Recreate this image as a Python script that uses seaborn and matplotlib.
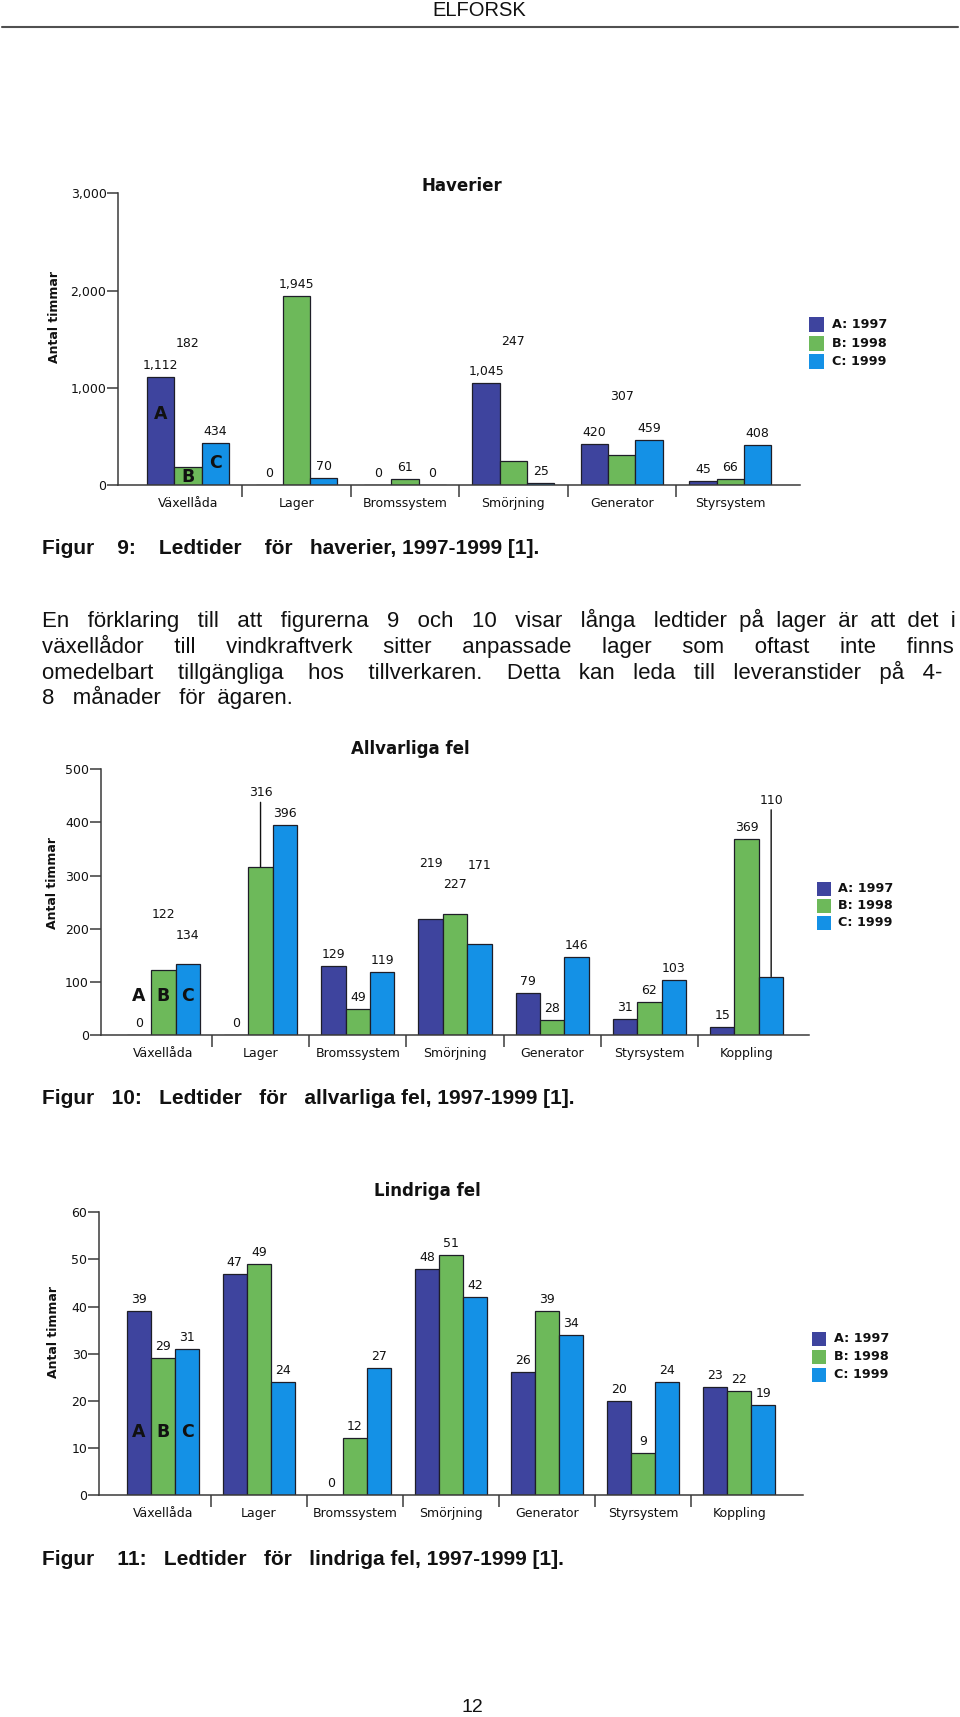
import numpy as np
import pandas as pd
import matplotlib
matplotlib.use("Agg")
import matplotlib.pyplot as plt
import seaborn as sns
from matplotlib.patches import Rectangle
from matplotlib.lines import Line2D
from matplotlib.ticker import FuncFormatter
from matplotlib import font_manager as fm

# ---------------- data ----------------
years = ["A: 1997", "B: 1998", "C: 1999"]

hav_categories = ["Växellåda", "Lager", "Bromssystem", "Smörjning", "Generator", "Styrsystem"]
hav_1997 = [1112, 0, 0, 1045, 420, 45]
hav_1998 = [182, 1945, 61, 247, 307, 66]
hav_1999 = [434, 70, 0, 25, 459, 408]
hav_yticks = [0, 1000, 2000, 3000]

fel_categories = ["Växellåda", "Lager", "Bromssystem", "Smörjning", "Generator", "Styrsystem", "Koppling"]
allv_1997 = [0, 0, 129, 219, 79, 31, 15]
allv_1998 = [122, 316, 49, 227, 28, 62, 369]
allv_1999 = [134, 396, 119, 171, 146, 103, 110]
allv_yticks = [0, 100, 200, 300, 400, 500]

lind_1997 = [39, 47, 0, 48, 26, 20, 23]
lind_1998 = [29, 49, 12, 51, 39, 9, 22]
lind_1999 = [31, 24, 27, 42, 34, 24, 19]
lind_yticks = [0, 10, 20, 30, 40, 50, 60]

paragraph_lines = [
    "En förklaring till att figurerna 9 och 10 visar långa ledtider på lager är att det i",
    "växellådor till vindkraftverk sitter anpassade lager som oftast inte finns",
    "omedelbart tillgängliga hos tillverkaren. Detta kan leda till leveranstider på 4-",
    "8 månader för ägaren.",
]
captions = [
    "Figur 9: Ledtider för haverier, 1997-1999 [1].",
    "Figur 10: Ledtider för allvarliga fel, 1997-1999 [1].",
    "Figur 11: Ledtider för lindriga fel, 1997-1999 [1].",
]

# ---------------- style ----------------
colors = ["#3E449E", "#6DB95A", "#1491E6"]
EDGE = "#1e1e28"
AXC = "#3a3a3a"
W, H = 960, 1717

sns.set_theme(style="white")
plt.rcParams["font.family"] = ["DejaVu Sans"]
names = {f.name for f in fm.fontManager.ttflist}
NARROW = "Liberation Sans Narrow" if "Liberation Sans Narrow" in names else "Liberation Sans"

fig = plt.figure(figsize=(W / 100, H / 100), dpi=100)
fig.patch.set_facecolor("white")
renderer = fig.canvas.get_renderer()


def fx(x):
    return x / W


def fy(y):
    return 1 - y / H


def make_df(cats, series):
    rows = []
    for yr, vals in zip(years, series):
        for c, v in zip(cats, vals):
            rows.append({"Kategori": c, "År": yr, "Timmar": v})
    return pd.DataFrame(rows)


def chart(cats, series, yticks, box, pad, title, title_xy, ylab_xy,
          legend_spec, lifts, leaders, abc_y, thousands=False):
    left, right, ybot, ytop = box
    ax = fig.add_axes([fx(left), fy(ybot), (right - left) / W, (ybot - ytop) / H])
    df = make_df(cats, series)
    sns.barplot(data=df, x="Kategori", y="Timmar", hue="År", order=cats,
                hue_order=years, palette=colors, width=0.755, gap=0,
                saturation=1, edgecolor=EDGE, linewidth=0.9, errorbar=None,
                legend=False, ax=ax)
    n = len(cats)
    ax.set_xlim(-0.5 - pad, n - 0.5 + pad)
    ax.set_ylim(0, yticks[-1])
    for s in ["top", "right"]:
        ax.spines[s].set_visible(False)
    for s in ["left", "bottom"]:
        ax.spines[s].set_color(AXC)
        ax.spines[s].set_linewidth(1.1)
    ax.set_xticks(range(n))
    ax.set_xticklabels(cats)
    ax.set_xticks(np.arange(0.5, n - 0.5), minor=True)
    ax.tick_params(axis="x", which="major", length=0, pad=8.5, labelsize=9, labelcolor="#111111")
    ax.tick_params(axis="x", which="minor", bottom=True, length=8.5, width=1.1, color=AXC, direction="out")
    ax.set_yticks(yticks)
    if thousands:
        ax.yaxis.set_major_formatter(FuncFormatter(lambda v, p: f"{v:,.0f}"))
    ax.tick_params(axis="y", left=True, length=8, width=1.1, color=AXC, pad=0.5,
                   labelsize=9, labelcolor="#111111", direction="out")
    ax.set_xlabel("")
    ax.set_ylabel("Antal timmar", fontsize=9, fontweight="bold", color="#111111")
    ax.yaxis.label.set_rotation_mode("default")
    ax.yaxis.label.set_verticalalignment("center")
    ax.yaxis.label.set_horizontalalignment("center")
    ax.yaxis.set_label_coords(fx(ylab_xy[0]), fy(ylab_xy[1]), transform=fig.transFigure)
    ax.grid(False)

    # value labels taken from the drawn bars
    bars = [p for p in ax.patches if isinstance(p, Rectangle) and p.get_width() > 0]
    for p in bars:
        w = p.get_width()
        xc = p.get_x() + w / 2
        ci = int(round(xc))
        hi = int(round((xc - ci) / w)) + 1
        h = p.get_height()
        lift = lifts.get((ci, hi), 0)
        txt = f"{h:,.0f}" if thousands else f"{h:.0f}"
        kw = {}
        if (ci, hi) in leaders:
            kw["arrowprops"] = dict(arrowstyle="-", color="#111111", lw=1.0,
                                    shrinkA=0, shrinkB=0)
        ax.annotate(txt, xy=(xc, h), xytext=(0, (11.5 + lift) * 0.72),
                    textcoords="offset points", ha="center", va="center",
                    fontsize=9, color="#111111", **kw)
        if ci == 0:
            ax.text(xc, abc_y[hi], "ABC"[hi], ha="center", va="center",
                    fontsize=12.5, fontweight="bold", color="#111111")

    fig.text(fx(title_xy[0]), fy(title_xy[1]), title, ha="center", va="center",
             fontsize=12, fontweight="bold", color="#111111")

    x0, x1, ycs, size, xt = legend_spec
    for c, yc, lab in zip(colors, ycs, years):
        fig.add_artist(Rectangle((fx(x0), fy(yc + size / 2)), (x1 - x0) / W, size / H,
                                 transform=fig.transFigure, facecolor=c, edgecolor="none"))
        fig.text(fx(xt), fy(yc), lab, ha="left", va="center", fontsize=9.2,
                 fontweight="bold", color="#111111")
    return ax


# ---------------- charts ----------------
chart(hav_categories, [hav_1997, hav_1998, hav_1999], hav_yticks,
      box=(118.3, 800, 485, 193.3), pad=15.5 / 108.5,
      title="Haverier", title_xy=(462, 186), ylab_xy=(54, 317),
      legend_spec=(809, 824, [324.3, 343.3, 361.7], 15, 832),
      lifts={(0, 1): 112, (3, 1): 108, (4, 1): 47.5}, leaders=set(),
      abc_y=[730, 82, 226], thousands=True)

chart(fel_categories, [allv_1997, allv_1998, allv_1999], allv_yticks,
      box=(100.7, 809.3, 1035, 769.3), pad=14 / 97.3,
      title="Allvarliga fel", title_xy=(410, 749.3), ylab_xy=(52.7, 882.7),
      legend_spec=(817.3, 831, [888.7, 905.7, 922.7], 14, 838.3),
      lifts={(0, 1): 44.6, (0, 2): 17, (1, 1): 63, (3, 0): 44, (3, 1): 18,
             (3, 2): 67.5, (6, 2): 165},
      leaders={(1, 1), (6, 2)}, abc_y=[74, 74, 74])

chart(fel_categories, [lind_1997, lind_1998, lind_1999], lind_yticks,
      box=(99.3, 802.7, 1495, 1212.3), pad=15.5 / 96,
      title="Lindriga fel", title_xy=(427.3, 1190.7), ylab_xy=(53.3, 1332.3),
      legend_spec=(811.7, 826, [1338.7, 1356.7, 1374.7], 14.3, 834),
      lifts={}, leaders=set(), abc_y=[13.3, 13.3, 13.3])


# ---------------- page text ----------------
def text_width(s, **kw):
    t = fig.text(0, 0, s, **kw)
    w = t.get_window_extent(renderer).width
    t.remove()
    return w


def justify_line(line, x0, x1, baseline, use_gaps=None, **kw):
    """One text object per line; gaps widened with extra spaces."""
    words = line.split(" ")
    ngaps = len(words) - 1
    gaps = list(range(ngaps)) if use_gaps is None else list(use_gaps)
    sp = text_width("x x", **kw) - text_width("xx", **kw)
    extra = 0
    if x1 is not None:
        extra = max(0, int(round((x1 - x0 - text_width(line, **kw)) / sp)))
    counts = [1] * ngaps
    if extra and gaps:
        for k in range(extra):
            counts[gaps[k % len(gaps)]] += 1
    s = words[0]
    for c, w in zip(counts, words[1:]):
        s += " " * c + w
    fig.text(fx(x0), fy(baseline), s, va="baseline", ha="left", **kw)


# header
fig.text(fx(479), fy(10), "ELFORSK", ha="center", va="center",
         fontsize=18 if NARROW != "Liberation Sans" else 14.5,
         family=NARROW, color="#111111")
fig.add_artist(Line2D([fx(2), fx(958)], [fy(27.4), fy(27.4)], color="#505050", lw=1.5,
                      transform=fig.transFigure))

cap_kw = dict(fontsize=15, fontweight="bold", family="Liberation Sans", color="#111111")
cap_end = [538, 575, 565]
cap_base = [554.5, 1104.5, 1565]
for cap, x1, b in zip(captions, cap_end, cap_base):
    justify_line(cap, 41.6, x1, b, use_gaps=[0, 1, 2, 3], **cap_kw)

par_kw = dict(fontsize=16, family="Liberation Sans", color="#111111")
par_base = [627, 652.5, 678.5, 704]
ends = [955, 955, 941, 291]
for line, b, x1 in zip(paragraph_lines, par_base, ends):
    justify_line(line, 41.6, x1, b, **par_kw)

fig.text(fx(472), fy(1707), "12", ha="center", va="center",
         fontsize=17 if NARROW != "Liberation Sans" else 14,
         family=NARROW, color="#111111")

fig.savefig("out.png", dpi=100, facecolor="white")
